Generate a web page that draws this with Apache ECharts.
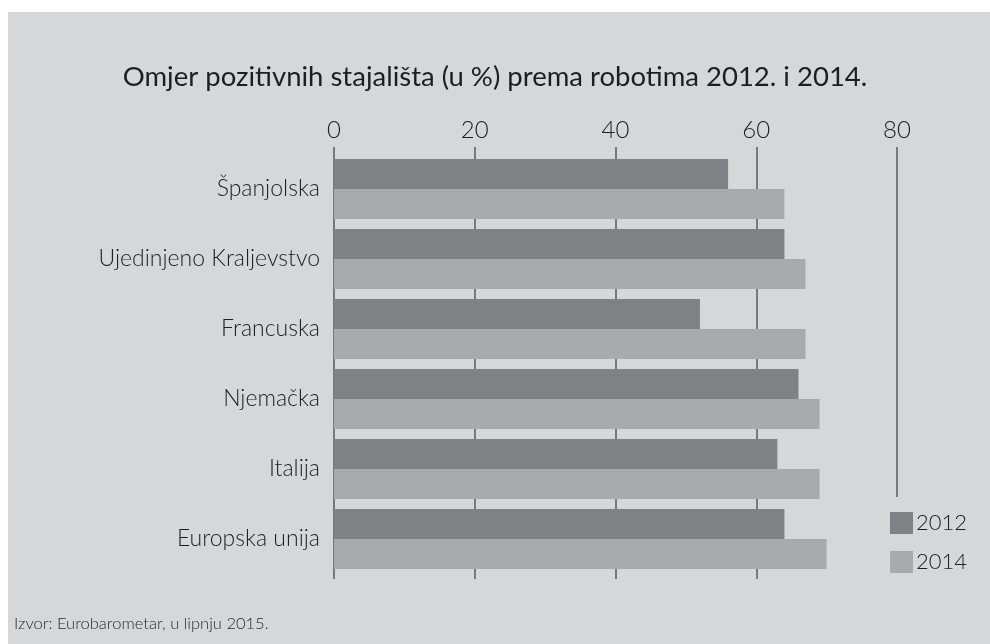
<!DOCTYPE html>
<html>
<head>
<meta charset="utf-8">
<script src="https://cdn.jsdelivr.net/npm/echarts@6/dist/echarts.min.js"></script>
<style>
  html, body { margin: 0; padding: 0; background: #ffffff; }
  #wrap { position: relative; width: 990px; height: 644px; overflow: hidden; }
  #panel { position: absolute; left: 8px; top: 12px; right: 0; bottom: 0; background: #d6d7d9; }
  #chart { position: absolute; left: 0; top: 0; width: 990px; height: 644px; }
</style>
</head>
<body>
<div id="wrap">
  <div id="panel"></div>
  <div id="chart"></div>
</div>
<script>
// podaci
const categories = ['Španjolska', 'Ujedinjeno Kraljevstvo', 'Francuska', 'Njemačka', 'Italija', 'Europska unija'];
const values2012 = [56, 64, 52, 66, 63, 64];
const values2014 = [64, 67, 67, 69, 69, 70];
const seriesNames = ['2012', '2014'];
const xMin = 0, xMax = 80, xStep = 20;

const font = 'Lato, "Noto Sans", sans-serif';
const lineColor = '#58585a';

var chart = echarts.init(document.getElementById('chart'));

var option = {
  backgroundColor: 'transparent',
  textStyle: { fontFamily: font },
  title: [
    {
      text: 'Omjer pozitivnih stajališta (u %) prema robotima 2012. i 2014.',
      left: 'center',
      top: 58,
      textStyle: { fontFamily: font, fontSize: 27.5, fontWeight: 'normal', color: '#1e1e1e' }
    },
    {
      text: 'Izvor: Eurobarometar, u lipnju 2015.',
      left: 9,
      top: 610,
      textStyle: { fontFamily: font, fontSize: 16.5, fontWeight: 300, color: '#2a2a2a' }
    }
  ],
  legend: {
    data: seriesNames,
    orient: 'vertical',
    left: 885,
    top: 507,
    itemWidth: 23,
    itemHeight: 22,
    itemGap: 17,
    icon: 'rect',
    textStyle: { fontFamily: font, fontSize: 22, fontWeight: 300, color: '#1e1e1e', padding: [0, 0, 0, -2] }
  },
  grid: [
    // stupci
    { left: 334, right: 93, top: 154, height: 420 },
    // linije mreže gore (0-80)
    { left: 334, right: 93, top: 147, height: 350 },
    // linije mreže dolje (0-60, ispod legende nema linije 80)
    { left: 334, width: 563 * 60 / 80, top: 497, height: 82 }
  ],
  xAxis: [
    {
      gridIndex: 0, type: 'value', position: 'top',
      min: xMin, max: xMax, interval: xStep,
      axisLine: { show: false }, axisTick: { show: false }, splitLine: { show: false },
      axisLabel: { margin: 12, fontFamily: font, fontSize: 24, fontWeight: 300, color: '#1e1e1e' }
    },
    {
      gridIndex: 1, type: 'value', min: xMin, max: xMax, interval: xStep,
      axisLine: { show: false }, axisTick: { show: false }, axisLabel: { show: false },
      splitLine: { show: true, lineStyle: { color: lineColor, width: 1.5 } }
    },
    {
      gridIndex: 2, type: 'value', min: xMin, max: 60, interval: xStep,
      axisLine: { show: false }, axisTick: { show: false }, axisLabel: { show: false },
      splitLine: { show: true, lineStyle: { color: lineColor, width: 1.5 } }
    }
  ],
  yAxis: [
    {
      gridIndex: 0, type: 'category', data: categories, inverse: true,
      axisLine: { show: false }, axisTick: { show: false },
      axisLabel: { margin: 14, fontFamily: font, fontSize: 23, fontWeight: 300, color: '#1e1e1e' }
    },
    { gridIndex: 1, type: 'value', show: false },
    { gridIndex: 2, type: 'value', show: false }
  ],
  series: [
    {
      name: seriesNames[0], type: 'bar', data: values2012,
      xAxisIndex: 0, yAxisIndex: 0,
      barWidth: 30, barGap: '0%',
      itemStyle: { color: '#808185' },
      z: 5
    },
    {
      name: seriesNames[1], type: 'bar', data: values2014,
      xAxisIndex: 0, yAxisIndex: 0,
      barWidth: 30, barGap: '0%',
      itemStyle: { color: '#a9aaad' },
      z: 5
    }
  ]
};

chart.setOption(option);
</script>
</body>
</html>
